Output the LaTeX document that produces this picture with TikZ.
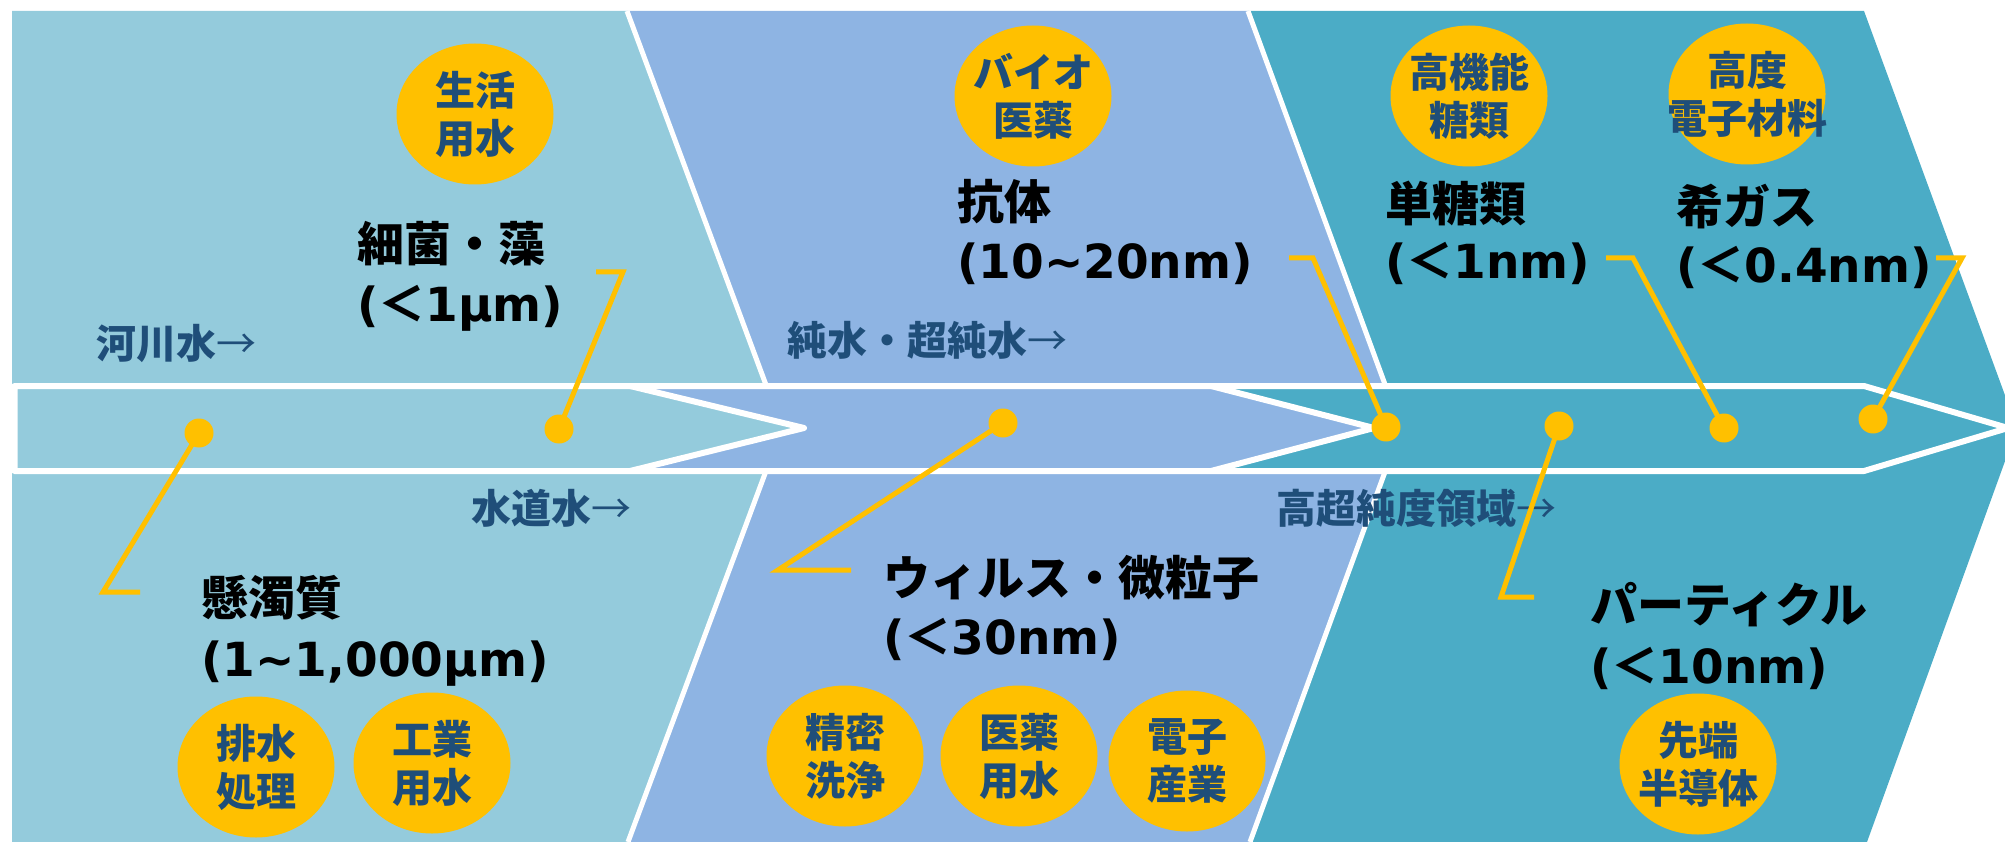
\documentclass[tikz,border=0pt]{standalone}
\usepackage{fontspec}
\newfontfamily\jpfont{Noto Sans CJK JP}
\newfontfamily\latfont{DejaVu Sans}
\usetikzlibrary{shapes.geometric}
\definecolor{pone}{HTML}{94CBDC}
\definecolor{ptwo}{HTML}{8EB4E3}
\definecolor{pthree}{HTML}{4BACC6}
\definecolor{cyel}{HTML}{FFC000}
\definecolor{ctxt}{HTML}{1F4E79}
\begin{document}
\begin{tikzpicture}[x=1pt,y=-1pt,
  yel/.style={ellipse, fill=cyel, minimum width=157, minimum height=141, inner sep=0},
  ytxt/.style={text=ctxt, font=\jpfont\bfseries\fontsize{40}{48}\selectfont, align=center, inner sep=0},
  blk/.style={text=black, font=\jpfont\bfseries\fontsize{47}{60}\selectfont, anchor=base west, inner sep=0},
  lbl/.style={text=ctxt, font=\jpfont\bfseries\fontsize{40}{48}\selectfont, anchor=base west, inner sep=0},
  dot/.style={circle, fill=cyel, minimum size=29, inner sep=0},
  lead/.style={draw=cyel, line width=5, line join=miter},
  sep/.style={draw=white, line width=5},
  bandline/.style={draw=white, line width=6, line join=round}]
\useasboundingbox (0,0) rectangle (2005,842);
\begin{scope}
\clip (0,0) rectangle (2005,842);
% panels
\fill[pone] (12,11) -- (627,11) -- (782,428) -- (628,842) -- (12,842) -- cycle;
\fill[ptwo] (627,11) -- (1248,11) -- (1401,428) -- (1250,842) -- (628,842) -- (782,428) -- cycle;
\fill[pthree] (1248,11) -- (1864,11) -- (2017,428) -- (1867,842) -- (1250,842) -- (1401,428) -- cycle;
\draw[sep] (627,11) -- (782,428) -- (628,842);
\draw[sep] (1248,11) -- (1401,428) -- (1250,842);
% band
\fill[pthree] (14,386) -- (1864,386) -- (2008,428) -- (1864,471) -- (14,471) -- cycle;
\fill[ptwo] (14,386) -- (1211,386) -- (1374,428) -- (1211,471) -- (14,471) -- cycle;
\fill[pone] (14,386) -- (630,386) -- (804,428) -- (630,471) -- (14,471) -- cycle;
\draw[bandline] (14.5,386) -- (1864,386) -- (2008,428) -- (1864,471) -- (14.5,471) -- cycle;
\draw[bandline] (630,386) -- (804,428) -- (630,471);
\draw[bandline] (1211,386) -- (1374,428) -- (1211,471);
\end{scope}
% yellow ellipses
\node[yel] (e1) at (475,114) {};
\node[ytxt] (t1) at (e1) {生活\\用水};
\node[yel] (e2) at (1033,96) {};
\node[ytxt] (t2) at (e2) {バイオ\\医薬};
\node[yel] (e3) at (1469,96) {};
\node[ytxt] (t3) at (e3) {高機能\\糖類};
\node[yel] (e4) at (1747,94) {};
\node[ytxt] (t4) at (e4) {高度\\電子材料};
\node[yel] (e5) at (256,767) {};
\node[ytxt] (t5) at (e5) {排水\\処理};
\node[yel] (e6) at (432,763) {};
\node[ytxt] (t6) at (e6) {工業\\用水};
\node[yel] (e7) at (845,756) {};
\node[ytxt] (t7) at (e7) {精密\\洗浄};
\node[yel] (e8) at (1019,756) {};
\node[ytxt] (t8) at (e8) {医薬\\用水};
\node[yel] (e9) at (1187,761) {};
\node[ytxt] (t9) at (e9) {電子\\産業};
\node[yel] (e10) at (1698,764) {};
\node[ytxt] (t10) at (e10) {先端\\半導体};
% flow labels
\node[lbl] (l1) at (96,358) {河川水{\mdseries →}};
\node[lbl] (l2) at (471,523) {水道水{\mdseries →}};
\node[lbl] (l3) at (787,355) {純水・超純水{\mdseries →}};
\node[lbl] (l4) at (1276,523) {高超純度領域{\mdseries →}};
% item labels
\node[blk] (a1) at (357,262) {細菌・藻};
\node[blk] (a1b) at (357,321) {{\latfont (}＜{\latfont 1μm)}};
\node[blk] (a2) at (201,615) {懸濁質};
\node[blk] (a2b) at (201,676) {{\latfont (1\textasciitilde 1,000μm)}};
\node[blk] (a3) at (957,220) {抗体};
\node[blk] (a3b) at (957,279) {{\latfont (10\textasciitilde 20nm)}};
\node[blk] (a4) at (883,595) {ウィルス・微粒子};
\node[blk] (a4b) at (883,654) {{\latfont (}＜{\latfont 30nm)}};
\node[blk] (a5) at (1385,222) {単糖類};
\node[blk] (a5b) at (1385,279) {{\latfont (}＜{\latfont 1nm)}};
\node[blk] (a6) at (1676,225) {希ガス};
\node[blk] (a6b) at (1676,283) {{\latfont (}＜{\latfont 0.4nm)}};
\node[blk] (a7) at (1590,622) {パーティクル};
\node[blk] (a7b) at (1590,683) {{\latfont (}＜{\latfont 10nm)}};
% dots and leaders
\node[dot] (d1) at (199,433) {};
\node[dot] (d2) at (559,429) {};
\node[dot] (d3) at (1003,423) {};
\node[dot] (d4) at (1386,427) {};
\node[dot] (d5) at (1559,426) {};
\node[dot] (d6) at (1724,428) {};
\node[dot] (d7) at (1873,419) {};
\coordinate (k1a) at (103,592); \coordinate (k1b) at (140,592);
\coordinate (k2a) at (623,272); \coordinate (k2b) at (596,272);
\coordinate (k3a) at (778,570); \coordinate (k3b) at (851,570);
\coordinate (k4a) at (1313,258); \coordinate (k4b) at (1289,258);
\coordinate (k5a) at (1501,597); \coordinate (k5b) at (1534,597);
\coordinate (k6a) at (1633,258); \coordinate (k6b) at (1606,258);
\coordinate (k7a) at (1962,258); \coordinate (k7b) at (1936,258);
\draw[lead] (d1.center) -- (k1a) -- (k1b);
\draw[lead] (d2.center) -- (k2a) -- (k2b);
\draw[lead] (d3.center) -- (k3a) -- (k3b);
\draw[lead] (d4.center) -- (k4a) -- (k4b);
\draw[lead] (d5.center) -- (k5a) -- (k5b);
\draw[lead] (d6.center) -- (k6a) -- (k6b);
\draw[lead] (d7.center) -- (k7a) -- (k7b);
\end{tikzpicture}
\end{document}
